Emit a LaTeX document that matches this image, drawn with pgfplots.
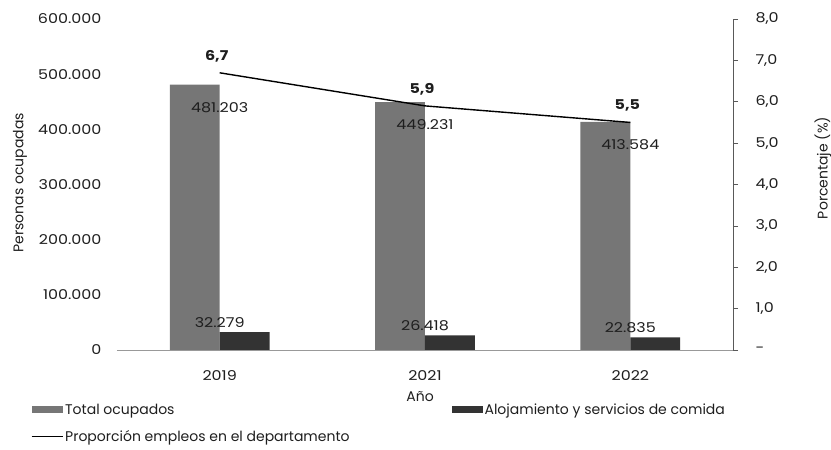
\documentclass[border=0pt]{standalone}
\usepackage{fontspec}
\setmainfont{Poppins}
\newfontfamily\numfont{Poppins}[FakeStretch=1.18]
\usepackage{pgfplots}
\pgfplotsset{compat=1.18}
\definecolor{totc}{HTML}{767676}
\definecolor{aloc}{HTML}{333333}
\definecolor{txt}{HTML}{1E1E1E}
\newcommand{\tf}{\fontsize{14}{16}\selectfont}
\newcommand{\nf}{\numfont\fontsize{13.5}{16}\selectfont}
\begin{document}
\begin{tikzpicture}
\useasboundingbox (-117pt,-100pt) rectangle (714pt,350pt);
\begin{axis}[
  scale only axis, width=616pt, height=331pt,
  xmin=-0.5, xmax=2.5, ymin=0, ymax=600000,
  axis x line*=bottom, axis y line*=left,
  x axis line style={gray!80, line width=0.6pt, -},
  y axis line style={draw=none},
  xtick={0,1,2}, xticklabels={2019,2021,2022},
  ytick={0,100000,200000,300000,400000,500000,600000},
  yticklabels={0,100.000,200.000,300.000,400.000,500.000,600.000},
  xtick style={draw=none}, ytick style={draw=none},
  scaled y ticks=false,
  yticklabel style={font=\nf, text=txt, xshift=-12pt},
  xticklabel style={font=\nf, text=txt, yshift=-17pt},
  ylabel={Personas ocupadas},
  ylabel style={at={(axis description cs:-0.1575,0.505)}, anchor=center, font=\tf, text=txt},
  xlabel={Año},
  xlabel style={at={(axis description cs:0.492,-0.142)}, anchor=center, font=\tf, text=txt},
  legend columns=2,
  legend style={draw=none, fill=none, at={(-0.145,-0.150)}, anchor=north west, font=\tf, text=txt,
    /tikz/every even column/.append style={column sep=100pt}, row sep=10pt,
    /tikz/every odd column/.append style={inner xsep=1pt}},
  legend cell align=left,
]
\addplot[ybar, bar width=0.243, bar shift=-0.1215, fill=totc, draw=none,
  area legend,
  legend image code/.code={\fill[totc] (0pt,-3.5pt) rectangle (31pt,3.5pt);},
  nodes near coords, point meta=explicit symbolic,
  every node near coord/.append style={anchor=north, yshift=-14pt, font=\nf, text=txt}]
  coordinates {(0,481203) [481.203] (1,449231) [449.231] (2,413584) [413.584]};
\addlegendentry{Total ocupados}
\addplot[ybar, bar width=0.243, bar shift=0.1215, fill=aloc, draw=none,
  legend image code/.code={\fill[aloc] (0pt,-3.5pt) rectangle (31pt,3.5pt);},
  nodes near coords, point meta=explicit symbolic,
  every node near coord/.append style={anchor=south, yshift=1pt, font=\nf, text=txt}]
  coordinates {(0,32279) [32.279] (1,26418) [26.418] (2,22835) [22.835]};
\addlegendentry{Alojamiento y servicios de comida}
\addlegendimage{black, line width=1.3pt, legend image code/.code={\draw[black, line width=1.3pt] (0pt,0pt) -- (31pt,0pt);}}
\addlegendentry{Proporción empleos en el departamento}
\end{axis}
\begin{axis}[
  scale only axis, width=616pt, height=331pt,
  xmin=-0.5, xmax=2.5, ymin=0, ymax=8,
  axis x line=none, axis y line*=right,
  y axis line style={gray!70!black, line width=0.6pt, -},
  ytick={0,1,2,3,4,5,6,7,8},
  yticklabels={-,{1,0},{2,0},{3,0},{4,0},{5,0},{6,0},{7,0},{8,0}},
  tick align=outside, major tick length=5pt,
  ytick style={gray!70!black, line width=0.6pt},
  yticklabel style={font=\nf, text=txt, xshift=14pt, anchor=west},
  ylabel={Porcentaje (\%)},
  ylabel style={at={(axis description cs:1.146,0.55)}, anchor=center, font=\tf, text=txt},
]
\addplot[black, line width=1.4pt, mark=none,
  nodes near coords, point meta=explicit symbolic,
  every node near coord/.append style={anchor=south, yshift=7pt, xshift=-3pt, font=\nf\bfseries, text=txt}]
  coordinates {(0,6.7) [6{,}7] (1,5.9) [5{,}9] (2,5.5) [5{,}5]};
\end{axis}
\end{tikzpicture}
\end{document}
